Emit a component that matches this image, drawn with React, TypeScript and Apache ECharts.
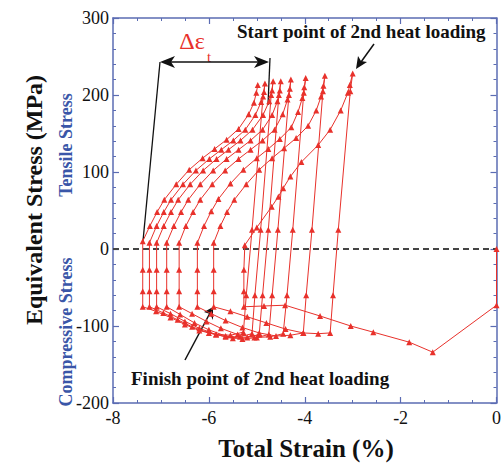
import React, { useEffect, useRef } from "react";
import * as echarts from "echarts";

// Load path (strain %, stress MPa), in loading order
const heat1: [number, number][] = [[0,0],[0,-73],[-1.33,-134],[-1.82,-121],[-2.57,-108],[-3.04,-100],[-3.68,-87],[-4.41,-73],[-4.85,-74],[-5.27,-75]];
const cool1: [number, number][] = [[-5.27,-55],[-5.27,-27],[-5.25,5],[-5.0,28],[-4.69,55],[-4.55,68],[-4.45,79],[-4.30,94],[-4.07,113],[-3.72,135],[-3.47,155],[-3.25,180],[-3.10,203],[-3.06,213],[-3.0,228]];
const heat2: [number, number][] = [[-3.05,205],[-3.3,25],[-3.41,-60],[-3.47,-109],[-3.72,-110],[-4.03,-109],[-4.4,-104],[-4.8,-96],[-5.2,-88],[-5.55,-81],[-5.9,-75]];
const cool2: [number, number][] = [[-5.9,-55],[-5.9,-27],[-5.9,8],[-5.76,30],[-5.62,48],[-5.47,64],[-5.22,84],[-4.95,103],[-4.68,118],[-4.43,131],[-4.18,144],[-3.93,160],[-3.76,180],[-3.66,198],[-3.61,212],[-3.58,225]];
const heat3: [number, number][] = [[-3.62,205],[-3.85,25],[-3.97,-60],[-4.03,-109],[-4.3,-112],[-4.6,-113],[-4.95,-109],[-5.3,-102],[-5.65,-93],[-5.95,-84],[-6.24,-75]];
const cool3: [number, number][] = [[-6.24,-55],[-6.24,-27],[-6.24,8],[-6.1,30],[-5.95,49],[-5.8,65],[-5.55,85],[-5.28,103],[-5.0,118],[-4.76,130],[-4.52,143],[-4.28,158],[-4.14,178],[-4.05,196],[-4.01,210],[-3.98,222]];
const heat4: [number, number][] = [[-4.02,203],[-4.25,25],[-4.37,-60],[-4.45,-110],[-4.72,-114],[-5.05,-115],[-5.4,-111],[-5.75,-103],[-6.05,-94],[-6.35,-84],[-6.62,-75]];
const cool4: [number, number][] = [[-6.62,-55],[-6.62,-27],[-6.62,8],[-6.48,30],[-6.33,48],[-6.18,64],[-5.93,84],[-5.66,102],[-5.38,117],[-5.13,129],[-4.88,141],[-4.63,155],[-4.46,175],[-4.36,194],[-4.31,208],[-4.29,220]];
const heat5: [number, number][] = [[-4.33,200],[-4.56,25],[-4.68,-60],[-4.75,-111],[-5.0,-115],[-5.3,-117],[-5.65,-113],[-6.0,-105],[-6.3,-96],[-6.6,-85],[-6.88,-75]];
const cool5: [number, number][] = [[-6.88,-55],[-6.88,-27],[-6.88,8],[-6.73,30],[-6.58,48],[-6.43,64],[-6.18,84],[-5.91,102],[-5.63,117],[-5.38,129],[-5.13,141],[-4.88,155],[-4.68,174],[-4.57,192],[-4.52,206],[-4.50,218]];
const heat6: [number, number][] = [[-4.54,200],[-4.76,25],[-4.88,-60],[-4.95,-111],[-5.2,-115],[-5.5,-116],[-5.85,-111],[-6.2,-103],[-6.5,-94],[-6.8,-84],[-7.09,-75]];
const cool6: [number, number][] = [[-7.09,-55],[-7.09,-27],[-7.09,8],[-6.94,30],[-6.79,48],[-6.64,64],[-6.39,84],[-6.12,102],[-5.84,117],[-5.59,129],[-5.34,141],[-5.09,155],[-4.87,174],[-4.74,192],[-4.68,206],[-4.66,218]];
const heat7: [number, number][] = [[-4.70,200],[-4.92,25],[-5.04,-60],[-5.1,-110],[-5.35,-114],[-5.65,-114],[-6.0,-109],[-6.35,-101],[-6.65,-92],[-6.95,-83],[-7.24,-75]];
const cool7: [number, number][] = [[-7.24,-55],[-7.24,-27],[-7.24,8],[-7.09,30],[-6.94,48],[-6.79,64],[-6.54,84],[-6.27,102],[-5.99,117],[-5.74,129],[-5.49,141],[-5.24,155],[-5.03,174],[-4.91,191],[-4.85,204],[-4.83,215]];
const heat8: [number, number][] = [[-4.87,198],[-5.1,25],[-5.22,-60],[-5.28,-108],[-5.55,-112],[-5.85,-111],[-6.2,-106],[-6.5,-98],[-6.8,-89],[-7.1,-81],[-7.38,-75]];
const cool8: [number, number][] = [[-7.38,-55],[-7.38,-27],[-7.38,10],[-7.23,30],[-7.08,48],[-6.93,64],[-6.68,84],[-6.41,103],[-6.13,118],[-5.88,130],[-5.63,142],[-5.38,156],[-5.17,175],[-5.06,190],[-5.01,203],[-4.98,213]];

const xTicks = [-8, -6, -4, -2, 0];
const yTicks = [-200, -100, 0, 100, 200, 300];

const RED = "#e8312b";
const AXIS = "#5b6cb3";
const SERIF = "'Liberation Serif', 'Times New Roman', serif";

export default function App() {
  const ref = useRef<HTMLDivElement>(null);
  useEffect(() => {
    if (!ref.current) return;
    const chart = echarts.init(ref.current, null, { renderer: "svg" });
    const path = [heat1, cool1, heat2, cool2, heat3, cool3, heat4, cool4, heat5, cool5, heat6, cool6, heat7, cool7, heat8, cool8].flat();
    const axisCommon = {
      type: "value" as const,
      axisLine: { show: true, onZero: false, lineStyle: { color: AXIS, width: 1.5 } },
      axisTick: { show: true, inside: true, length: 6, lineStyle: { color: AXIS, width: 1.2 } },
      minorTick: { show: true, length: 3, lineStyle: { color: AXIS, width: 1 } },
      splitLine: { show: false },
    };
    const xLabel = { show: true, color: "#111", fontFamily: SERIF, fontSize: 18, margin: 6 };
    const yLabel = { show: true, color: "#111", fontFamily: SERIF, fontSize: 18, margin: 4 };
    chart.setOption({
      animation: false,
      backgroundColor: "#fff",
      grid: { left: 113, right: 4, top: 18, bottom: 60, containLabel: false },
      xAxis: [
        { ...axisCommon, min: xTicks[0], max: xTicks[xTicks.length - 1], interval: 2, minorTick: { ...axisCommon.minorTick, splitNumber: 4 }, axisLabel: xLabel, position: "bottom" },
        { ...axisCommon, min: xTicks[0], max: xTicks[xTicks.length - 1], interval: 2, minorTick: { ...axisCommon.minorTick, splitNumber: 4 }, axisLabel: { show: false }, position: "top" },
      ],
      yAxis: [
        { ...axisCommon, min: yTicks[0], max: yTicks[yTicks.length - 1], interval: 100, minorTick: { ...axisCommon.minorTick, splitNumber: 5 }, axisLabel: yLabel, position: "left" },
        { ...axisCommon, min: yTicks[0], max: yTicks[yTicks.length - 1], interval: 100, minorTick: { ...axisCommon.minorTick, splitNumber: 5 }, axisLabel: { show: false }, position: "right" },
      ],
      series: [
        {
          type: "line",
          data: path,
          symbol: "triangle",
          symbolSize: 6,
          showSymbol: true,
          itemStyle: { color: RED },
          lineStyle: { color: RED, width: 1 },
          z: 3,
          markLine: {
            silent: true,
            symbol: "none",
            label: { show: false },
            lineStyle: { color: "#444", type: [6, 4], width: 1.8 },
            data: [{ yAxis: 0 }],
            z: 2,
          },
        },
      ],
      graphic: [
        // axis titles
        { type: "text", x: 34, y: 200, rotation: Math.PI / 2, style: { text: "Equivalent Stress (MPa)", font: `bold 24px ${SERIF}`, fill: "#111", align: "center", verticalAlign: "middle" } },
        { type: "text", x: 66, y: 145, rotation: Math.PI / 2, style: { text: "Tensile Stress", font: `bold 18px ${SERIF}`, fill: "#3a56a8", align: "center", verticalAlign: "middle" } },
        { type: "text", x: 66, y: 332, rotation: Math.PI / 2, style: { text: "Compressive Stress", font: `bold 18px ${SERIF}`, fill: "#3a56a8", align: "center", verticalAlign: "middle" } },
        { type: "text", x: 306, y: 448, style: { text: "Total Strain (%)", font: `bold 25px ${SERIF}`, fill: "#111", align: "center", verticalAlign: "middle" } },
        // annotations
        { type: "text", x: 237, y: 31, style: { text: "Start point of 2nd heat loading", font: `bold 19px ${SERIF}`, fill: "#111", align: "left", verticalAlign: "middle" } },
        { type: "text", x: 131, y: 378, style: { text: "Finish point of 2nd heat loading", font: `bold 19px ${SERIF}`, fill: "#111", align: "left", verticalAlign: "middle" } },
        { type: "text", x: 192, y: 41, style: { text: "Δε", font: `24px ${SERIF}`, fill: RED, align: "center", verticalAlign: "middle" } },
        { type: "text", x: 209, y: 57, style: { text: "t", font: `15px ${SERIF}`, fill: RED, align: "center", verticalAlign: "middle" } },
        // delta bracket
        { type: "line", shape: { x1: 143, y1: 241, x2: 160, y2: 62 }, style: { stroke: "#111", lineWidth: 1.3 } },
        { type: "line", shape: { x1: 270, y1: 58, x2: 268, y2: 105 }, style: { stroke: "#111", lineWidth: 1.3 } },
        { type: "line", shape: { x1: 166, y1: 62, x2: 264, y2: 62 }, style: { stroke: "#111", lineWidth: 1.6 } },
        { type: "polygon", shape: { points: [[160, 62], [175, 56], [171, 62], [175, 68]] }, style: { fill: "#111" } },
        { type: "polygon", shape: { points: [[269, 62], [254, 56], [258, 62], [254, 68]] }, style: { fill: "#111" } },
        // start arrow
        { type: "line", shape: { x1: 374, y1: 44, x2: 361, y2: 62 }, style: { stroke: "#111", lineWidth: 1.5 } },
        { type: "polygon", shape: { points: [[356, 69], [358, 56], [361, 61], [367, 62]] }, style: { fill: "#111" } },
        // finish arrow
        { type: "line", shape: { x1: 185, y1: 360, x2: 210, y2: 313 }, style: { stroke: "#111", lineWidth: 1.5 } },
        { type: "polygon", shape: { points: [[213, 307], [213, 320], [210, 314], [204, 312]] }, style: { fill: "#111" } },
      ],
    });
    return () => chart.dispose();
  }, []);
  return <div ref={ref} style={{ position: "absolute", left: 0, top: 0, width: 504, height: 463 }} />;
}
